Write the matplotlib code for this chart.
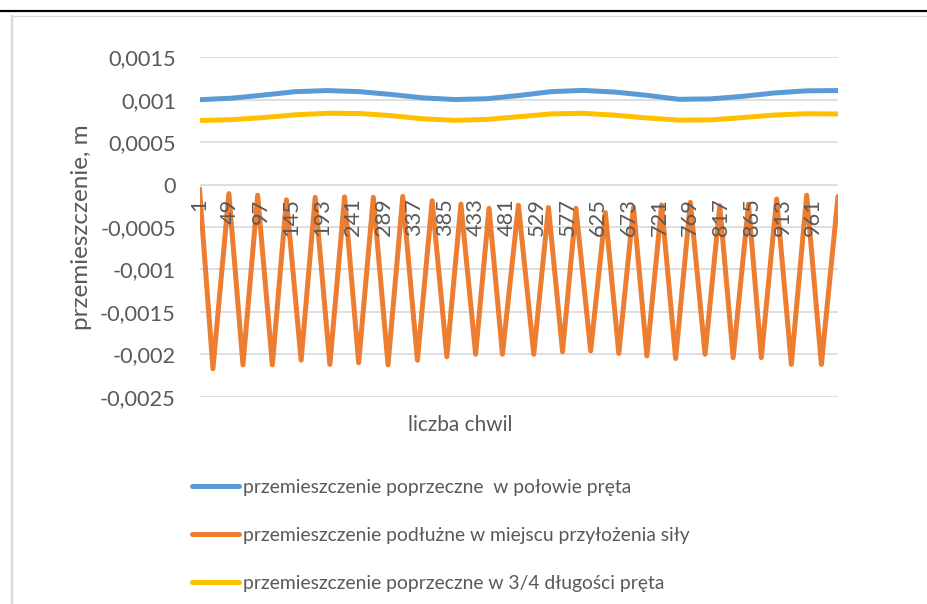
import matplotlib
matplotlib.use("Agg")
import matplotlib.pyplot as plt
from matplotlib.lines import Line2D

# --- data ---
smooth_steps = [1, 51, 101, 151, 201, 251, 301, 351, 401, 451, 501,
                551, 601, 651, 701, 751, 801, 851, 901, 951, 1000]
blue_vals = [0.001000, 0.001018, 0.001055, 0.001095, 0.001108, 0.001095,
             0.001062, 0.001022, 0.001002, 0.001012, 0.001050, 0.001095,
             0.001110, 0.001090, 0.001052, 0.001005, 0.001010, 0.001040,
             0.001080, 0.001105, 0.001108]
yellow_vals = [0.000755, 0.000765, 0.000790, 0.000822, 0.000840, 0.000838,
               0.000812, 0.000775, 0.000757, 0.000768, 0.000800, 0.000833,
               0.000840, 0.000818, 0.000785, 0.000760, 0.000762, 0.000790,
               0.000820, 0.000835, 0.000832]

# peaks and troughs of the longitudinal displacement, in order
orange_steps = [1, 22, 47, 69, 92, 115, 137, 160, 182, 205, 228, 250, 273,
                296, 319, 342, 365, 388, 410, 433, 454, 475, 500, 524, 547,
                569, 590, 613, 636, 657, 680, 701, 724, 746, 769, 792, 815,
                836, 860, 880, 904, 927, 951, 974, 1000]
orange_vals = [-0.00005, -0.00217, -0.000106, -0.002125, -0.000125, -0.002125,
               -0.00018, -0.00207, -0.00015, -0.00212, -0.000145, -0.0021,
               -0.00015, -0.002125, -0.00014, -0.00207, -0.00019, -0.00203,
               -0.00023, -0.0020, -0.00028, -0.0020, -0.000243, -0.0020,
               -0.00027, -0.00197, -0.00028, -0.00196, -0.00033, -0.00199,
               -0.00027, -0.00202, -0.00024, -0.00205, -0.00021, -0.0020,
               -0.00025, -0.00204, -0.00023, -0.00204, -0.00017, -0.00212,
               -0.000125, -0.00212, -0.00014]

series_names = ["przemieszczenie poprzeczne  w połowie pręta",
                "przemieszczenie podłużne w miejscu przyłożenia siły",
                "przemieszczenie poprzeczne w 3/4 długości pręta"]
series_colors = ["#5B9BD5", "#ED7D31", "#FFC000"]

x_ticks = [1, 49, 97, 145, 193, 241, 289, 337, 385, 433, 481,
           529, 577, 625, 673, 721, 769, 817, 865, 913, 961]
y_ticks = [0.0015, 0.001, 0.0005, 0, -0.0005, -0.001, -0.0015, -0.002, -0.0025]
y_tick_labels = ["0,0015", "0,001", "0,0005", "0", "-0,0005", "-0,001",
                 "-0,0015", "-0,002", "-0,0025"]

plt.rcParams['font.family'] = ['Lato', 'DejaVu Sans']
text_gray = "#595959"
grid_gray = "#D9D9D9"

W, H = 927, 604
fig = plt.figure(figsize=(W / 100, H / 100), dpi=100)

# page line and chart frame
fig.add_artist(Line2D([0, 1], [1 - 10.5 / H] * 2, color="black", lw=1.6))
fig.add_artist(Line2D([12 / W, 1], [1 - 15.5 / H] * 2, color=grid_gray, lw=1.0))
fig.add_artist(Line2D([12 / W] * 2, [0, 1 - 15.5 / H], color=grid_gray, lw=1.6))

ax = fig.add_axes([199.5 / W, 1 - 396.7 / H, (838 - 199.5) / W, (396.7 - 57.3) / H])

lw = 3.6
ax.plot(smooth_steps, blue_vals, color=series_colors[0], lw=lw,
        solid_capstyle="round", solid_joinstyle="round", label=series_names[0])
ax.plot(orange_steps, orange_vals, color=series_colors[1], lw=lw,
        solid_capstyle="round", solid_joinstyle="round", label=series_names[1])
ax.plot(smooth_steps, yellow_vals, color=series_colors[2], lw=lw,
        solid_capstyle="round", solid_joinstyle="round", label=series_names[2])

ax.set_xlim(1, 1000)
ax.set_ylim(-0.0025, 0.0015)
ax.set_yticks(y_ticks)
ax.set_yticklabels(y_tick_labels)
ax.set_xticks(x_ticks)
ax.set_xticklabels([str(t) for t in x_ticks])

for s in ax.spines.values():
    s.set_visible(False)
ax.spines["bottom"].set_position(("data", 0))
ax.tick_params(axis="both", length=0, colors=text_gray)
ax.tick_params(axis="y", pad=17, labelsize=15.7)
ax.tick_params(axis="x", pad=10, labelsize=15.7, labelrotation=90)
ax.grid(axis="y", color=grid_gray, lw=1.2)
ax.set_axisbelow(True)
# category labels sit on top of the lines, like in Excel
ax.xaxis.set_zorder(5)

fig.text(82 / W, 1 - 227 / H, "przemieszczenie, m", rotation=90, ha="center",
         va="center", color=text_gray, fontsize=17.5)
fig.text(460 / W, 1 - 425 / H, "liczba chwil", ha="center", va="center",
         color=text_gray, fontsize=15)

fig.legend(loc="upper left", bbox_to_anchor=(192 / W, 1 - 479 / H),
           frameon=False, fontsize=13.9, handlelength=2.45, handletextpad=0.2,
           labelspacing=1.6, borderpad=0, borderaxespad=0, labelcolor=text_gray)

fig.savefig("out.png", dpi=100, facecolor="white")
